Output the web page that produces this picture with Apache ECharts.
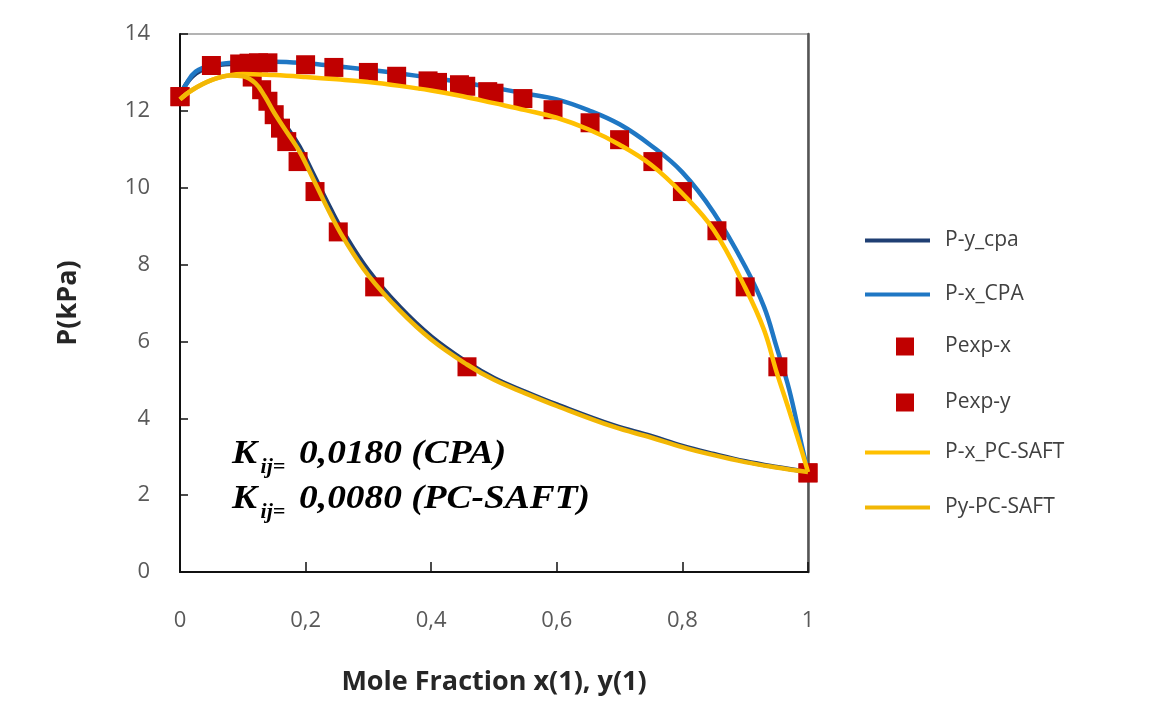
<!DOCTYPE html>
<html>
<head>
<meta charset="utf-8">
<script src="https://cdn.jsdelivr.net/npm/echarts@6/dist/echarts.min.js"></script>
<style>
  html, body { margin: 0; padding: 0; background: #fff; }
</style>
</head>
<body>
<div id="main" style="width: 1166px; height: 709px;"></div>
<script>
// x tick values
var xTicks = [0, 0.2, 0.4, 0.6, 0.8, 1]

// model curves [x(1) or y(1), P kPa]
var pyCpa = [[0, 12.4], [0.02, 12.9], [0.05, 13.15], [0.08, 13.22], [0.1, 13.1], [0.12, 12.85], [0.135, 12.5],
  [0.15, 12.08], [0.17, 11.58], [0.19, 11.08], [0.215, 10.27], [0.24, 9.45], [0.26, 8.85], [0.3, 7.85],
  [0.35, 6.9], [0.4, 6.13], [0.457, 5.46], [0.5, 5.05], [0.55, 4.69], [0.6, 4.36], [0.69, 3.82],
  [0.75, 3.54], [0.8, 3.28], [0.85, 3.07], [0.9, 2.88], [0.95, 2.73], [1, 2.6]]

var pxCpa = [[0, 12.4], [0.01, 12.7], [0.025, 13.02], [0.05, 13.18], [0.1, 13.27], [0.15, 13.28], [0.2, 13.24],
  [0.25, 13.16], [0.3, 13.07], [0.35, 12.97], [0.4, 12.86], [0.45, 12.74], [0.5, 12.6], [0.55, 12.45],
  [0.6, 12.3], [0.65, 12.02], [0.7, 11.65], [0.75, 11.1], [0.8, 10.4], [0.85, 9.35], [0.9, 7.95],
  [0.93, 6.9], [0.95, 5.85], [0.97, 4.75], [0.99, 3.3], [1, 2.6]]

var pxSaft = [[0, 12.3], [0.02, 12.55], [0.05, 12.8], [0.08, 12.93], [0.1, 12.96], [0.15, 12.93], [0.2, 12.88],
  [0.25, 12.82], [0.3, 12.75], [0.35, 12.65], [0.4, 12.53], [0.45, 12.38], [0.5, 12.2], [0.55, 12.02],
  [0.6, 11.82], [0.65, 11.52], [0.7, 11.12], [0.75, 10.6], [0.8, 9.85], [0.85, 8.9], [0.9, 7.4],
  [0.93, 6.3], [0.95, 5.2], [0.97, 4.2], [0.99, 3.15], [1, 2.6]]

var pySaft = [[0, 12.3], [0.02, 12.55], [0.05, 12.8], [0.08, 12.92], [0.1, 12.9], [0.12, 12.72], [0.135, 12.38],
  [0.15, 11.95], [0.17, 11.45], [0.19, 10.95], [0.215, 10.13], [0.24, 9.3], [0.26, 8.7], [0.3, 7.72],
  [0.35, 6.8], [0.4, 6.05], [0.457, 5.4], [0.5, 5.0], [0.55, 4.65], [0.6, 4.32], [0.69, 3.78],
  [0.75, 3.5], [0.8, 3.25], [0.85, 3.04], [0.9, 2.86], [0.95, 2.72], [1, 2.6]]

// experimental points
var expX = [[0, 12.37], [0.05, 13.18], [0.095, 13.22], [0.11, 13.24], [0.125, 13.25], [0.14, 13.25],
  [0.2, 13.2], [0.245, 13.13], [0.3, 13.0], [0.345, 12.9], [0.395, 12.78], [0.41, 12.74], [0.445, 12.68],
  [0.455, 12.64], [0.49, 12.5], [0.5, 12.46], [0.546, 12.32], [0.594, 12.03], [0.653, 11.69],
  [0.7, 11.25], [0.753, 10.68], [0.8, 9.9], [0.855, 8.88], [0.9, 7.42], [0.952, 5.34], [1, 2.58]]

var expY = [[0, 12.37], [0.115, 12.88], [0.13, 12.55], [0.14, 12.25], [0.15, 11.9], [0.16, 11.55],
  [0.17, 11.2], [0.188, 10.68], [0.215, 9.9], [0.252, 8.85], [0.31, 7.42], [0.457, 5.34], [1, 2.58]]

var chartDom = document.getElementById('main');
var myChart = echarts.init(chartDom);

var tickFont = { fontFamily: 'Open Sans', fontSize: 22, color: '#595959' }
var legendText = { fontFamily: 'Open Sans', fontSize: 21, color: '#404040', lineHeight: 20, padding: [0, 0, 0, 10] }
var kFont = 'italic bold 34px "Liberation Serif"'
var kSub = 'italic bold 20px "Liberation Serif"'

function lineSeries(name, data, color, z) {
  return {
    name: name,
    type: 'line',
    data: data,
    smooth: 0.4,
    symbol: 'none',
    z: z,
    lineStyle: { color: color, width: 4.5 },
    itemStyle: { color: color }
  }
}

var option = {
  animation: false,
  backgroundColor: '#fff',
  grid: {
    left: 180,
    right: 358,
    top: 34,
    bottom: 137,
    show: true,
    borderColor: '#9a9a9a',
    borderWidth: 1.5
  },
  legend: [
    {
      data: [{ name: 'P-y_cpa', icon: 'rect' }, { name: 'P-x_CPA', icon: 'rect' }],
      orient: 'vertical',
      left: 865,
      top: 230,
      padding: 0,
      itemWidth: 65,
      itemHeight: 4,
      itemGap: 33,
      textStyle: legendText
    },
    {
      data: [{ name: 'Pexp-x', icon: 'rect' }, { name: 'Pexp-y', icon: 'rect' }],
      orient: 'vertical',
      left: 896,
      top: 336,
      padding: 0,
      itemWidth: 18,
      itemHeight: 18,
      itemGap: 35,
      textStyle: Object.assign({}, legendText, { padding: [0, 0, 0, 26] })
    },
    {
      data: [{ name: 'P-x_PC-SAFT', icon: 'rect' }, { name: 'Py-PC-SAFT', icon: 'rect' }],
      orient: 'vertical',
      left: 865,
      top: 442,
      padding: 0,
      itemWidth: 65,
      itemHeight: 4,
      itemGap: 34,
      textStyle: legendText
    }
  ],
  xAxis: {
    type: 'value',
    min: xTicks[0],
    max: xTicks[xTicks.length - 1],
    interval: 0.2,
    name: 'Mole Fraction x(1), y(1)',
    nameLocation: 'middle',
    nameGap: 97,
    nameTextStyle: { fontFamily: 'Open Sans', fontSize: 27, fontWeight: 'bold', color: '#262626' },
    axisLine: { lineStyle: { color: '#111', width: 2 } },
    axisTick: { inside: true, length: 10, lineStyle: { color: '#111', width: 1.5 } },
    axisLabel: Object.assign({}, tickFont, {
      margin: 38,
      formatter: function (v) { return String(+v.toFixed(1)).replace('.', ',') }
    }),
    splitLine: { show: false }
  },
  yAxis: [
    {
      type: 'value',
      min: 0,
      max: 14,
      interval: 2,
      name: 'P(kPa)',
      nameLocation: 'middle',
      nameRotate: 90,
      nameGap: 98,
      nameTextStyle: { fontFamily: 'Open Sans', fontSize: 27, fontWeight: 'bold', color: '#262626' },
      axisLine: { show: true, lineStyle: { color: '#111', width: 2 } },
      axisTick: { show: true, inside: true, length: 8, lineStyle: { color: '#111', width: 1.5 } },
      axisLabel: Object.assign({}, tickFont, { margin: 30 }),
      splitLine: { show: false }
    },
    {
      type: 'value',
      min: 0,
      max: 14,
      position: 'right',
      axisLine: { show: true, lineStyle: { color: '#555', width: 2.5 } },
      axisTick: { show: false },
      axisLabel: { show: false },
      splitLine: { show: false }
    }
  ],
  graphic: [
    {
      type: 'group',
      x: 232,
      y: 0,
      scaleX: 1.1,
      children: [
        { type: 'text', x: 0, y: 454, style: { text: 'K', font: kFont, fill: '#000', verticalAlign: 'middle' } },
        { type: 'text', x: 26, y: 468, style: { text: 'ij=', font: kSub, fill: '#000', verticalAlign: 'middle' } },
        { type: 'text', x: 61, y: 454, style: { text: '0,0180 (CPA)', font: kFont, fill: '#000', verticalAlign: 'middle' } },
        { type: 'text', x: 0, y: 499, style: { text: 'K', font: kFont, fill: '#000', verticalAlign: 'middle' } },
        { type: 'text', x: 26, y: 513, style: { text: 'ij=', font: kSub, fill: '#000', verticalAlign: 'middle' } },
        { type: 'text', x: 61, y: 499, style: { text: '0,0080 (PC-SAFT)', font: kFont, fill: '#000', verticalAlign: 'middle' } }
      ]
    }
  ],
  series: [
    lineSeries('P-y_cpa', pyCpa, '#1f3f73', 2),
    lineSeries('P-x_CPA', pxCpa, '#1f77c4', 2),
    {
      name: 'Pexp-x',
      type: 'scatter',
      data: expX,
      symbol: 'rect',
      symbolSize: 19,
      z: 3,
      itemStyle: { color: '#c00000', opacity: 1 }
    },
    {
      name: 'Pexp-y',
      type: 'scatter',
      data: expY,
      symbol: 'rect',
      symbolSize: 19,
      z: 3,
      itemStyle: { color: '#c00000', opacity: 1 }
    },
    lineSeries('P-x_PC-SAFT', pxSaft, '#ffc000', 4),
    lineSeries('Py-PC-SAFT', pySaft, '#f2b705', 4)
  ]
};

option && myChart.setOption(option);
</script>
</body>
</html>
